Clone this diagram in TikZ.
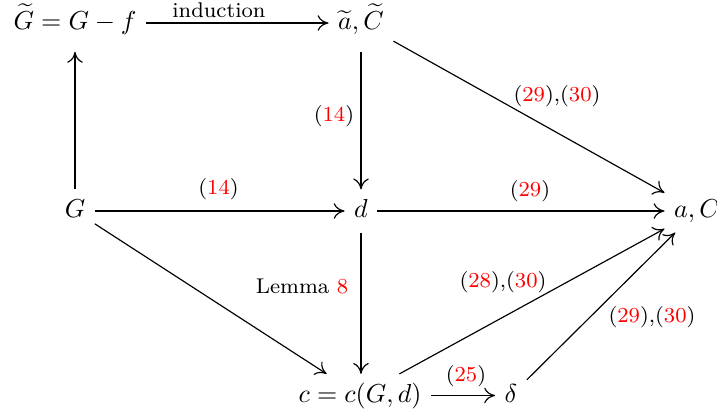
\documentclass[tikz,border=0pt]{standalone}
\usetikzlibrary{arrows.meta}
\begin{document}
\begin{tikzpicture}[x=0.3846pt, y=-0.3846pt,
  obj/.style={inner xsep=3.5pt, inner ysep=3.6pt, text height=7pt, text depth=2pt},
  tallobj/.style={inner xsep=3.5pt, inner ysep=3.4pt, text height=10pt, text depth=5pt},
  arr/.style={-{Computer Modern Rightarrow[length=4.2pt,width=6pt]}, line width=0.45pt},
  lab/.style={font=\fontsize{8.2}{10}\selectfont, inner sep=0pt, anchor=base}]
\useasboundingbox (0,0) rectangle (717,411);
% objects
\node[tallobj] (Gt) at (75,23) {$\widetilde{G} = G - f$};
\node[tallobj] (at) at (361,23) {$\widetilde{a}, \widetilde{C}$};
\node[obj] (G)  at (75,211) {$G$};
\node[obj] (d)  at (361,211) {$d$};
\node[obj] (aC) at (697,211) {$a, C$};
\node[obj] (c)  at (360,395.5) {$c = c(G,d)$};
\node[obj] (de) at (511,395.5) {$\delta$};
% arrows
\draw[arr] (Gt) -- (at);
\draw[arr] (G) -- (Gt);
\draw[arr] (at) -- (d);
\draw[arr] (at) -- (aC);
\draw[arr] (G) -- (d);
\draw[arr] (d) -- (aC);
\draw[arr] (G) -- (c);
\draw[arr] (d) -- (d |- c.north);
\draw[arr] (c) -- (aC);
\draw[arr] (c) -- (de);
\draw[arr] (de) -- (aC);
% labels
\node[lab] (l1) at (219,17) {induction};
\node[lab] (l2) at (334,121.5) {(\textcolor{red}{14})};
\node[lab] (l3) at (557,101.5) {(\textcolor{red}{29}),(\textcolor{red}{30})};
\node[lab] (l4) at (218.5,194.5) {(\textcolor{red}{14})};
\node[lab] (l5) at (530,196.5) {(\textcolor{red}{29})};
\node[lab] (l6) at (302,293) {Lemma \textcolor{red}{8}};
\node[lab] (l7) at (503,287.5) {(\textcolor{red}{28}),(\textcolor{red}{30})};
\node[lab] (l8) at (652,322.5) {(\textcolor{red}{29}),(\textcolor{red}{30})};
\node[lab] (l9) at (466,381.5) {(\textcolor{red}{25})};
\end{tikzpicture}
\end{document}
